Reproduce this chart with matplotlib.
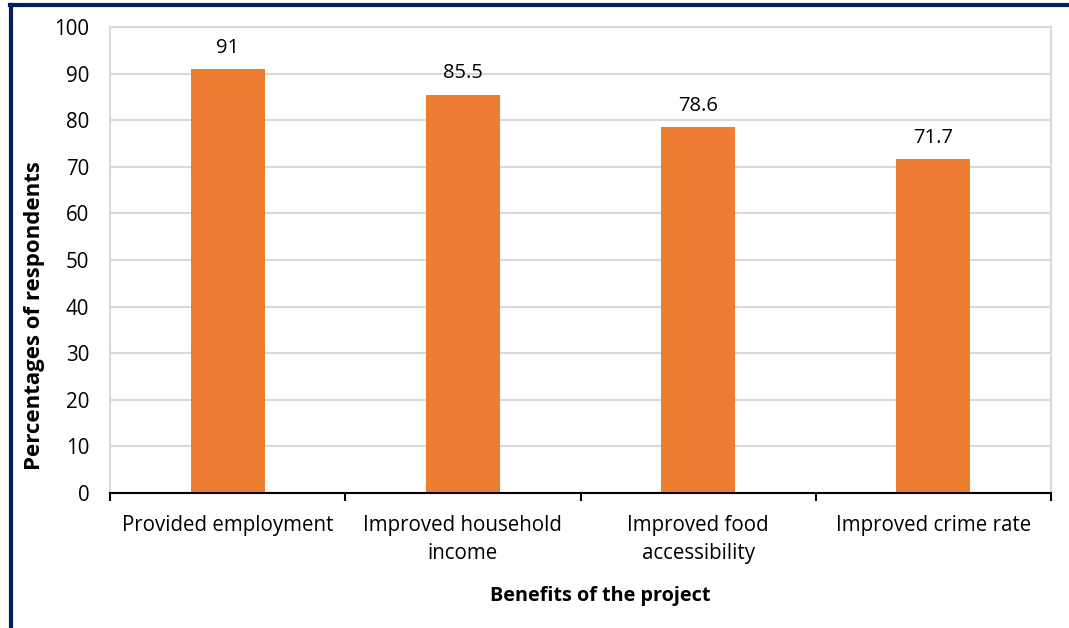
import matplotlib as mpl
import matplotlib.pyplot as plt
from matplotlib.lines import Line2D

mpl.use('Agg')

categorias = ["Provided employment", "Improved household\nincome",
              "Improved food\naccessibility", "Improved crime rate"]
valores = [91, 85.5, 78.6, 71.7]
rotulos = ["91", "85.5", "78.6", "71.7"]

plt.rcParams['font.family'] = ['Open Sans', 'DejaVu Sans']

W, H = 1069, 628
fig = plt.figure(figsize=(W / 100, H / 100), dpi=100)
ax = fig.add_axes([110 / W, 1 - 493 / H, (1051 - 110) / W, (493 - 27) / H])

x = list(range(len(categorias)))
ax.bar(x, valores, width=0.315, color="#ed7d31", zorder=3)
for xi, v, r in zip(x, valores, rotulos):
    ax.annotate(r, (xi, v), xytext=(0, 8), textcoords="offset points",
                ha="center", va="bottom", fontsize=14.5)

ax.set_xlim(-0.5, len(categorias) - 0.5)
ax.set_ylim(0, 100)
ax.set_yticks(range(0, 101, 10))
ax.grid(axis="y", color="#d9d9d9", linewidth=1.5, zorder=0)

ax.set_xticks(x)
ax.set_xticklabels(categorias, fontsize=14.8, linespacing=1.45)
ax.tick_params(axis="x", length=0, pad=16)
ax.tick_params(axis="y", length=0, labelsize=14.8, pad=15)
# ticks nas divisas das categorias
ax.set_xticks([i - 0.5 for i in range(len(categorias) + 1)], minor=True)
ax.tick_params(axis="x", which="minor", length=6, width=1.5, color="black")

for lado in ["left", "top", "right"]:
    ax.spines[lado].set_color("#d9d9d9")
    ax.spines[lado].set_linewidth(1.5)
ax.spines["bottom"].set_color("black")
ax.spines["bottom"].set_linewidth(1.5)
ax.spines["bottom"].set_zorder(4)

fig.text(35 / W, 1 - 316 / H, "Percentages of respondents", rotation=90,
         ha="center", va="center", fontsize=16, fontweight="bold")
fig.text(600 / W, 1 - 596 / H, "Benefits of the project",
         ha="center", va="center", fontsize=14.3, fontweight="bold")

# moldura azul escura
fig.add_artist(Line2D([11 / W, 11 / W], [0, 1 - 5 / H], color="#002060",
                      linewidth=3, transform=fig.transFigure))
fig.add_artist(Line2D([10 / W, 1], [1 - 5 / H, 1 - 5 / H], color="#002060",
                      linewidth=3, transform=fig.transFigure))

plt.savefig("out.png", dpi=100)
